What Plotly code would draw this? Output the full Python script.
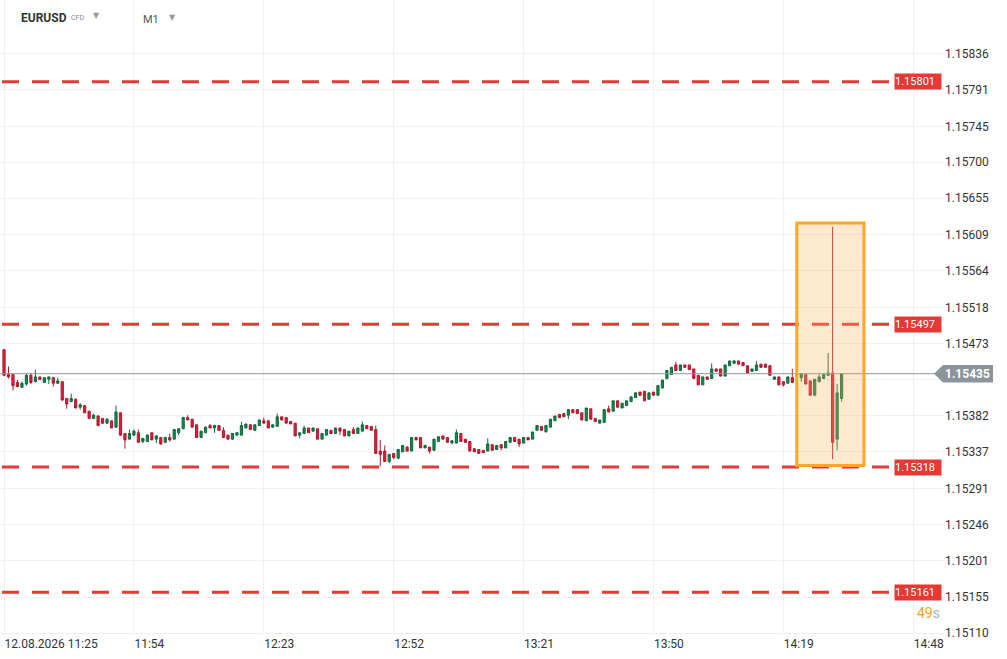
import plotly.graph_objects as go
import pandas as pd

# ---------------- data (EURUSD M1, 12.08.2026) ----------------
open_ = [1.15465,1.15434,1.15434,1.15424,1.15418,1.15422,1.15433,1.15425,1.15431,1.15424,
         1.15428,1.15430,1.15423,1.15425,1.15404,1.15400,1.15403,1.15393,1.15395,1.15388,
         1.15379,1.15382,1.15379,1.15373,1.15376,1.15368,1.15386,1.15360,1.15353,1.15358,
         1.15361,1.15350,1.15350,1.15361,1.15353,1.15355,1.15349,1.15355,1.15353,1.15361,
         1.15366,1.15380,1.15378,1.15371,1.15355,1.15361,1.15370,1.15367,1.15370,1.15364,
         1.15358,1.15353,1.15358,1.15358,1.15367,1.15371,1.15364,1.15370,1.15376,1.15376,
         1.15368,1.15369,1.15381,1.15380,1.15375,1.15373,1.15358,1.15360,1.15367,1.15363,
         1.15366,1.15353,1.15358,1.15364,1.15360,1.15367,1.15365,1.15357,1.15365,1.15360,
         1.15363,1.15370,1.15369,1.15365,1.15338,1.15338,1.15325,1.15335,1.15329,1.15337,
         1.15343,1.15338,1.15355,1.15355,1.15342,1.15343,1.15339,1.15350,1.15357,1.15355,
         1.15348,1.15348,1.15360,1.15353,1.15350,1.15341,1.15340,1.15339,1.15338,1.15346,
         1.15340,1.15346,1.15342,1.15349,1.15355,1.15353,1.15348,1.15355,1.15353,1.15364,
         1.15369,1.15362,1.15368,1.15376,1.15384,1.15385,1.15383,1.15390,1.15390,1.15386,
         1.15376,1.15391,1.15379,1.15373,1.15374,1.15391,1.15388,1.15401,1.15392,1.15395,
         1.15400,1.15405,1.15412,1.15413,1.15403,1.15412,1.15408,1.15417,1.15429,1.15434,
         1.15446,1.15439,1.15446,1.15446,1.15441,1.15433,1.15421,1.15431,1.15429,1.15441,
         1.15441,1.15432,1.15445,1.15448,1.15451,1.15449,1.15445,1.15438,1.15439,1.15447,
         1.15447,1.15445,1.15428,1.15431,1.15425,1.15423,1.15430,1.15434,1.15430,1.15434,
         1.15426,1.15408,1.15425,1.15429,1.15433,1.15436,1.15353,1.15404]
high = [1.15466,1.15444,1.15434,1.15427,1.15425,1.15435,1.15436,1.15440,1.15431,1.15430,
        1.15431,1.15430,1.15430,1.15425,1.15404,1.15410,1.15404,1.15398,1.15395,1.15388,
        1.15385,1.15383,1.15379,1.15379,1.15376,1.15395,1.15386,1.15360,1.15365,1.15365,
        1.15365,1.15354,1.15359,1.15361,1.15358,1.15355,1.15356,1.15360,1.15365,1.15366,
        1.15381,1.15383,1.15378,1.15371,1.15363,1.15369,1.15372,1.15371,1.15370,1.15368,
        1.15358,1.15360,1.15362,1.15375,1.15372,1.15371,1.15371,1.15377,1.15380,1.15376,
        1.15371,1.15385,1.15381,1.15380,1.15375,1.15373,1.15361,1.15370,1.15367,1.15367,
        1.15366,1.15360,1.15365,1.15364,1.15367,1.15367,1.15365,1.15363,1.15368,1.15367,
        1.15375,1.15370,1.15369,1.15370,1.15352,1.15345,1.15334,1.15335,1.15340,1.15345,
        1.15344,1.15355,1.15356,1.15355,1.15346,1.15343,1.15353,1.15356,1.15357,1.15355,
        1.15351,1.15365,1.15360,1.15353,1.15350,1.15341,1.15340,1.15339,1.15354,1.15346,
        1.15345,1.15346,1.15350,1.15355,1.15355,1.15353,1.15355,1.15355,1.15362,1.15370,
        1.15369,1.15370,1.15378,1.15382,1.15384,1.15385,1.15390,1.15390,1.15390,1.15386,
        1.15392,1.15391,1.15379,1.15377,1.15390,1.15395,1.15401,1.15401,1.15398,1.15401,
        1.15406,1.15411,1.15412,1.15413,1.15411,1.15412,1.15420,1.15427,1.15439,1.15443,
        1.15450,1.15446,1.15446,1.15446,1.15441,1.15433,1.15431,1.15431,1.15448,1.15441,
        1.15441,1.15446,1.15451,1.15452,1.15451,1.15449,1.15445,1.15441,1.15451,1.15447,
        1.15447,1.15445,1.15431,1.15431,1.15425,1.15431,1.15441,1.15436,1.15435,1.15434,
        1.15426,1.15428,1.15434,1.15434,1.15461,1.15619,1.15422,1.15435]
low = [1.15432,1.15429,1.15414,1.15418,1.15417,1.15420,1.15422,1.15424,1.15427,1.15424,
       1.15422,1.15419,1.15422,1.15401,1.15391,1.15400,1.15392,1.15390,1.15386,1.15378,
       1.15378,1.15370,1.15372,1.15372,1.15367,1.15367,1.15357,1.15341,1.15353,1.15357,
       1.15349,1.15348,1.15350,1.15352,1.15348,1.15346,1.15348,1.15350,1.15353,1.15358,
       1.15366,1.15377,1.15368,1.15355,1.15355,1.15361,1.15367,1.15361,1.15364,1.15355,
       1.15353,1.15352,1.15358,1.15358,1.15367,1.15365,1.15364,1.15370,1.15373,1.15367,
       1.15368,1.15369,1.15377,1.15373,1.15372,1.15357,1.15354,1.15360,1.15361,1.15363,
       1.15353,1.15353,1.15358,1.15360,1.15360,1.15358,1.15357,1.15357,1.15360,1.15360,
       1.15363,1.15366,1.15364,1.15335,1.15319,1.15325,1.15323,1.15328,1.15329,1.15337,
       1.15338,1.15338,1.15352,1.15342,1.15342,1.15335,1.15339,1.15350,1.15353,1.15349,
       1.15348,1.15348,1.15350,1.15349,1.15338,1.15337,1.15335,1.15336,1.15338,1.15339,
       1.15340,1.15339,1.15342,1.15349,1.15350,1.15343,1.15348,1.15352,1.15353,1.15364,
       1.15364,1.15362,1.15368,1.15376,1.15380,1.15381,1.15378,1.15386,1.15385,1.15377,
       1.15376,1.15378,1.15375,1.15373,1.15374,1.15387,1.15388,1.15393,1.15392,1.15395,
       1.15400,1.15405,1.15408,1.15401,1.15403,1.15408,1.15408,1.15417,1.15429,1.15434,
       1.15439,1.15439,1.15443,1.15440,1.15429,1.15421,1.15421,1.15428,1.15429,1.15438,
       1.15432,1.15432,1.15445,1.15448,1.15447,1.15445,1.15436,1.15438,1.15439,1.15443,
       1.15443,1.15433,1.15428,1.15421,1.15419,1.15423,1.15424,1.15431,1.15425,1.15422,
       1.15407,1.15408,1.15425,1.15429,1.15433,1.15328,1.15339,1.15400]
close = [1.15433,1.15431,1.15420,1.15419,1.15423,1.15433,1.15424,1.15431,1.15428,1.15430,
         1.15431,1.15423,1.15426,1.15402,1.15397,1.15404,1.15392,1.15396,1.15386,1.15379,
         1.15383,1.15370,1.15373,1.15378,1.15367,1.15387,1.15358,1.15352,1.15360,1.15363,
         1.15349,1.15354,1.15358,1.15352,1.15357,1.15347,1.15355,1.15352,1.15365,1.15366,
         1.15380,1.15377,1.15368,1.15355,1.15363,1.15368,1.15367,1.15370,1.15364,1.15355,
         1.15353,1.15360,1.15361,1.15370,1.15372,1.15365,1.15371,1.15377,1.15373,1.15367,
         1.15371,1.15381,1.15377,1.15373,1.15372,1.15357,1.15361,1.15367,1.15361,1.15367,
         1.15353,1.15360,1.15365,1.15360,1.15367,1.15363,1.15357,1.15363,1.15360,1.15367,
         1.15371,1.15366,1.15364,1.15335,1.15334,1.15325,1.15334,1.15330,1.15340,1.15345,
         1.15338,1.15355,1.15352,1.15342,1.15345,1.15338,1.15353,1.15356,1.15353,1.15349,
         1.15351,1.15361,1.15350,1.15349,1.15338,1.15337,1.15335,1.15336,1.15347,1.15339,
         1.15345,1.15342,1.15350,1.15355,1.15350,1.15347,1.15355,1.15352,1.15362,1.15370,
         1.15364,1.15370,1.15378,1.15382,1.15380,1.15381,1.15390,1.15386,1.15385,1.15377,
         1.15392,1.15378,1.15375,1.15377,1.15390,1.15387,1.15401,1.15393,1.15398,1.15401,
         1.15406,1.15411,1.15408,1.15401,1.15411,1.15408,1.15420,1.15427,1.15439,1.15443,
         1.15439,1.15446,1.15443,1.15440,1.15429,1.15421,1.15431,1.15428,1.15441,1.15438,
         1.15432,1.15446,1.15451,1.15451,1.15447,1.15445,1.15436,1.15441,1.15446,1.15443,
         1.15443,1.15433,1.15431,1.15421,1.15421,1.15431,1.15424,1.15433,1.15435,1.15422,
         1.15408,1.15428,1.15431,1.15434,1.15436,1.15349,1.15411,1.15435]

times = pd.date_range("2026-08-12 11:25", periods=len(open_), freq="1min")

levels = [1.15801, 1.15497, 1.15318, 1.15161]
level_labels = ["1.15801", "1.15497", "1.15318", "1.15161"]
current_price = 1.15435
current_label = "1.15435"

y_tickvals = [1.15110, 1.15155, 1.15201, 1.15246, 1.15291, 1.15337, 1.15382, 1.15428,
              1.15473, 1.15518, 1.15564, 1.15609, 1.15655, 1.15700, 1.15745, 1.15791, 1.15836]
# the 1.15428 label sits under the current-price tag, so it is left blank
y_ticktext = ["" if abs(v - 1.15428) < 1e-9 else f"{v:.5f}" for v in y_tickvals]
x_tickvals = ["2026-08-12 11:25", "2026-08-12 11:54", "2026-08-12 12:23", "2026-08-12 12:52",
              "2026-08-12 13:21", "2026-08-12 13:50", "2026-08-12 14:19", "2026-08-12 14:48"]
x_ticktext = ["12.08.2026 11:25", "11:54", "12:23", "12:52", "13:21", "13:50", "14:19", "14:48"]

highlight_time = ["2026-08-12 14:22:00", "2026-08-12 14:37:00"]
highlight_price = [1.15320, 1.15624]

# ---------------- layout geometry ----------------
W, H = 1007, 659
ML, MR, MT, MB = 0, 63, 0, 26
PW = W - ML - MR
PH = H - MT - MB
FONT = "Roboto, 'Noto Sans', sans-serif"

def px(x):
    return x / PW

def py(y):
    return 1 - y / PH

fig = go.Figure()
fig.add_trace(go.Candlestick(
    x=times, open=open_, high=high, low=low, close=close,
    increasing=dict(fillcolor="#11894f", line=dict(color="#0c6b3e", width=1)),
    decreasing=dict(fillcolor="#dc1f3a", line=dict(color="#b3162d", width=1)),
    whiskerwidth=0, hoverinfo="skip", showlegend=False,
))

shapes = []
for lv in levels:
    shapes.append(dict(type="line", xref="paper", yref="y", x0=px(2), x1=px(889),
                       y0=lv, y1=lv, line=dict(color="#e53935", width=3, dash="17px,13px"),
                       layer="above"))
shapes.append(dict(type="line", xref="paper", yref="y", x0=0, x1=1,
                   y0=current_price, y1=current_price,
                   line=dict(color="#8a959b", width=1), layer="above"))
shapes.append(dict(type="rect", xref="x", yref="y",
                   x0=highlight_time[0], x1=highlight_time[1],
                   y0=highlight_price[0], y1=highlight_price[1],
                   line=dict(color="#ffa52a", width=3),
                   fillcolor="rgba(250,180,100,0.30)", layer="above"))
dy = 0.00011
shapes.append(dict(type="path", xref="paper", yref="y",
                   path=(f"M {px(934)},{current_price} L {px(943)},{current_price+dy} "
                         f"L {px(993)},{current_price+dy} L {px(993)},{current_price-dy} "
                         f"L {px(943)},{current_price-dy} Z"),
                   fillcolor="#8a959b", line=dict(width=0), layer="above"))

annotations = []
for lv, lab in zip(levels, level_labels):
    annotations.append(dict(xref="paper", yref="y", x=px(894), y=lv, xanchor="left",
                            yanchor="middle", text=lab, showarrow=False,
                            font=dict(family=FONT, size=11, color="white"),
                            bgcolor="#e53935", width=46, height=15, align="left",
                            borderpad=0))
annotations.append(dict(xref="paper", yref="y", x=px(968), y=current_price, xanchor="center",
                        yanchor="middle", text=f"<b>{current_label}</b>", showarrow=False,
                        font=dict(family=FONT, size=12, color="white")))
annotations += [
    dict(xref="paper", yref="paper", x=px(19), y=py(18), xanchor="left", yanchor="middle",
         text="<b>EURUSD</b>", showarrow=False, font=dict(family=FONT, size=12, color="#333")),
    dict(xref="paper", yref="paper", x=px(69), y=py(18), xanchor="left", yanchor="middle",
         text="CFD", showarrow=False, font=dict(family=FONT, size=7, color="#888")),
    dict(xref="paper", yref="paper", x=px(91), y=py(16), xanchor="left", yanchor="middle",
         text="▼", showarrow=False, font=dict(family="DejaVu Sans", size=8, color="#999")),
    dict(xref="paper", yref="paper", x=px(141), y=py(19), xanchor="left", yanchor="middle",
         text="M1", showarrow=False, font=dict(family=FONT, size=11, color="#555")),
    dict(xref="paper", yref="paper", x=px(167), y=py(17), xanchor="left", yanchor="middle",
         text="▼", showarrow=False, font=dict(family="DejaVu Sans", size=8, color="#999")),
    dict(xref="paper", yref="paper", x=px(915), y=py(613), xanchor="left", yanchor="middle",
         text="<span style='color:#f7a21b'>49</span><span style='color:#b0b0b0'>s</span>",
         showarrow=False, font=dict(family=FONT, size=14, color="#f7a21b")),
]

fig.update_layout(
    width=W, height=H, margin=dict(l=ML, r=MR, t=MT, b=MB, pad=0),
    paper_bgcolor="white", plot_bgcolor="white",
    font=dict(family=FONT, size=12, color="#333"),
    shapes=shapes, annotations=annotations, showlegend=False, hovermode=False,
    xaxis=dict(type="date", range=["2026-08-12 11:24:06", "2026-08-12 14:54:52"],
               tickvals=x_tickvals, ticktext=x_ticktext, ticklabelposition="outside right",
               showgrid=True, gridcolor="#f0f0f0", gridwidth=1, zeroline=False,
               showline=True, linecolor="#eeeeee", ticks="", rangeslider=dict(visible=False),
               tickfont=dict(family=FONT, size=12, color="#333"), fixedrange=True),
    yaxis=dict(side="right", range=[1.15110, 1.159034], tickvals=y_tickvals,
               ticktext=y_ticktext, showgrid=True, gridcolor="#f0f0f0", gridwidth=1,
               zeroline=False, ticks="", showline=False,
               tickfont=dict(family=FONT, size=12, color="#333"), fixedrange=True),
)

fig.write_html("out.html", config={"displayModeBar": False, "staticPlot": True},
               post_script="document.body.style.margin='0';document.body.style.overflow='hidden';")
